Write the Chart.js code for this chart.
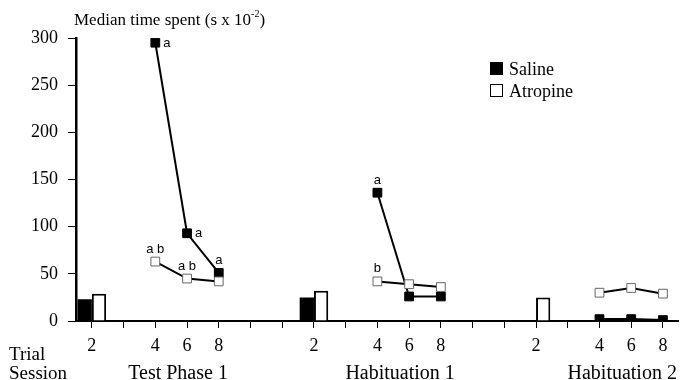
<!DOCTYPE html>
<html>
<head>
<meta charset="utf-8">
<script src="https://cdn.jsdelivr.net/npm/chart.js@4/dist/chart.umd.min.js"></script>
<style>
  html, body { margin: 0; padding: 0; background: #fff; }
  #wrap { width: 686px; height: 380px; }
</style>
</head>
<body>
<div id="wrap"><canvas id="chart" width="686" height="380"></canvas></div>
<script>
// trial slots along the x axis (blank = spacer tick)
const trialLabels = ['2', '', '4', '6', '8', '', '', '2', '', '4', '6', '8', '', '', '2', '', '4', '6', '8'];
const sessionNames = ['Test Phase 1', 'Habituation 1', 'Habituation 2'];
const sessionCenters = [3, 10, 17];

const salineBar = [23, null, null, null, null, null, null, 25, null, null, null, null, null, null, 1, null, null, null, null];
const atropineBar = [29, null, null, null, null, null, null, 32, null, null, null, null, null, null, 25, null, null, null, null];
const salineLine = [null, null, 295, 93, 51, null, null, null, null, 136, 26, 26, null, null, null, null, 2, 2, 1];
const atropineLine = [null, null, 63, 45, 42, null, null, null, null, 42, 39, 36, null, null, null, null, 30, 35, 29];

// significance letters: [line dataset, slot, text]
const marks = [
  ['saline', 2, 'a'], ['saline', 3, 'a'], ['saline', 4, 'a'],
  ['atropine', 2, 'a b'], ['atropine', 3, 'a b'],
  ['saline', 9, 'a'], ['atropine', 9, 'b']
];
const markSide = { 'saline-2': 'right', 'saline-3': 'right' };

const serif = '"Liberation Serif", "Times New Roman", serif';
const sans = '"Liberation Sans", Arial, sans-serif';

const extras = {
  id: 'extras',
  afterDraw(chart) {
    const ctx = chart.ctx;
    const x = chart.scales.x, y = chart.scales.y;
    ctx.save();
    ctx.fillStyle = '#000';

    // y title with superscript
    ctx.font = '17px ' + serif;
    ctx.textAlign = 'left';
    ctx.textBaseline = 'alphabetic';
    const t1 = 'Median time spent (s x 10';
    ctx.fillText(t1, 74, 25);
    let w = ctx.measureText(t1).width;
    ctx.font = '10px ' + serif;
    ctx.fillText('-2', 74 + w, 17);
    const w2 = ctx.measureText('-2').width;
    ctx.font = '17px ' + serif;
    ctx.fillText(')', 74 + w + w2, 25);

    // row captions
    ctx.font = '19px ' + serif;
    ctx.fillText('Trial', 9, 360);
    ctx.fillText('Session', 9, 379);

    ctx.font = '20px ' + serif;
    ctx.textAlign = 'center';
    sessionNames.forEach((s, i) => {
      ctx.fillText(s, x.getPixelForValue(sessionCenters[i]) - 9, 379);
    });

    // letters
    ctx.font = '13px ' + sans;
    marks.forEach(([key, idx, txt]) => {
      const vals = key === 'saline' ? salineLine : atropineLine;
      const px = x.getPixelForValue(idx);
      const py = y.getPixelForValue(vals[idx]);
      if (markSide[key + '-' + idx] === 'right') {
        ctx.textAlign = 'left';
        ctx.fillText(txt, px + 8, py + 4);
      } else {
        ctx.textAlign = 'center';
        ctx.fillText(txt, px, py - 9);
      }
    });

    // legend
    ctx.fillRect(490, 62, 13, 13);
    ctx.strokeStyle = '#000';
    ctx.lineWidth = 1;
    ctx.strokeRect(490.5, 84.5, 12, 12);
    ctx.font = '18px ' + serif;
    ctx.textAlign = 'left';
    ctx.fillText('Saline', 509, 75);
    ctx.fillText('Atropine', 509, 97);
    ctx.restore();
  }
};

new Chart(document.getElementById('chart'), {
  data: {
    labels: trialLabels,
    datasets: [
      {
        type: 'line', label: 'Saline', data: salineLine,
        borderColor: '#000', borderWidth: 2,
        pointStyle: 'rect', pointRadius: 6.2,
        pointBackgroundColor: '#000', pointBorderColor: '#000', pointBorderWidth: 1,
        order: 1
      },
      {
        type: 'line', label: 'Atropine', data: atropineLine,
        borderColor: '#000', borderWidth: 2,
        pointStyle: 'rect', pointRadius: 6.2,
        pointBackgroundColor: '#fff', pointBorderColor: '#666', pointBorderWidth: 1,
        order: 0
      },
      {
        type: 'bar', label: 'Saline bar', data: salineBar,
        backgroundColor: '#000', borderColor: '#000', borderWidth: 0,
        categoryPercentage: 0.9, barPercentage: 1, order: 2
      },
      {
        type: 'bar', label: 'Atropine bar', data: atropineBar,
        backgroundColor: '#fff', borderColor: '#000', borderWidth: { top: 2, left: 2, right: 2, bottom: 0 },
        categoryPercentage: 0.9, barPercentage: 1, order: 2
      }
    ]
  },
  options: {
    responsive: false,
    animation: false,
    layout: { padding: { top: 38, right: 4, left: 0, bottom: 0 } },
    plugins: { legend: { display: false }, tooltip: { enabled: false } },
    scales: {
      x: {
        type: 'category',
        offset: true,
        grid: { offset: false, drawOnChartArea: false, tickLength: 7, color: '#000', lineWidth: 1 },
        border: { color: '#000', width: 2 },
        ticks: { color: '#000', font: { family: serif, size: 18 }, padding: 7, autoSkip: false, maxRotation: 0 },
        afterFit(scale) { scale.height = 59; }
      },
      y: {
        min: 0, max: 300,
        grid: { drawOnChartArea: false, tickLength: 8, color: '#000', lineWidth: 1 },
        border: { color: '#000', width: 2.5 },
        ticks: { stepSize: 50, color: '#000', font: { family: serif, size: 18 }, padding: 10 },
        afterFit(scale) { scale.width = 76; }
      }
    }
  },
  plugins: [extras]
});
</script>
</body>
</html>
